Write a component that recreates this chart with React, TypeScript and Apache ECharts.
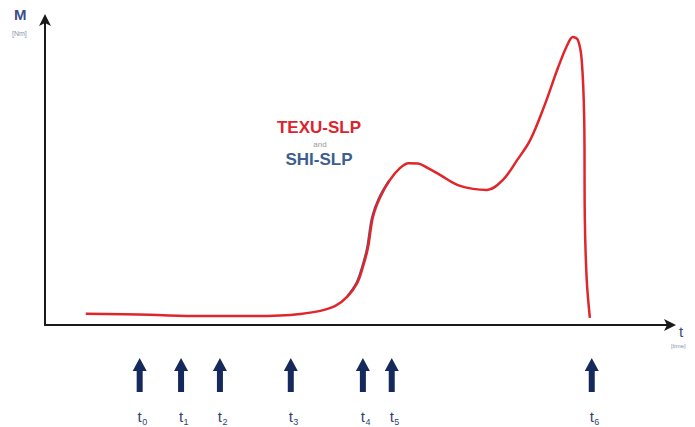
import React, { useEffect, useRef } from "react";
import * as echarts from "echarts";

// Torque curve M(t) for TEXU-SLP, axis units 0..100
const curveT = [6.5, 16.7, 24.7, 32.7, 37.5, 40.7, 43.9, 46.3, 48.3, 49.8, 50.7, 51.5, 52.3, 53.4, 55.0, 56.6, 58.0, 59.5, 61.0, 63.0, 66.2, 70.5, 73.0, 75.3, 77.4, 79.7, 81.8, 83.3, 84.2, 85.0, 85.6, 86.0, 86.1, 86.4, 86.9];
const curveM = [3.7, 3.3, 2.9, 2.9, 3.1, 3.6, 4.6, 6.2, 9.4, 13.7, 18.9, 25.1, 35.2, 41.4, 47.2, 51.1, 52.7, 52.6, 51.2, 48.9, 45.3, 44.0, 47.2, 53.7, 60.3, 71.7, 83.7, 91.2, 93.8, 92.8, 86.3, 66.8, 34.2, 14.7, 2.3];

// SHI-SLP curve, visible only where it departs slightly on the rise
const shiT = [48.2, 49.65, 50.55, 51.35, 52.15, 53.25, 54.9];
const shiM = [9.4, 13.7, 18.9, 25.1, 35.2, 41.4, 47.2];

// Event times t0..t6
const eventT = [15.1, 21.7, 27.9, 39.2, 50.7, 55.3, 87.2];
const eventLabels = ["0", "1", "2", "3", "4", "5", "6"];

export default function App() {
  const ref = useRef<HTMLDivElement>(null);
  useEffect(() => {
    const chart = echarts.init(ref.current!, null, { renderer: "svg" });
    const font = "Liberation Sans, Arial, sans-serif";
    chart.setOption({
      animation: false,
      backgroundColor: "#ffffff",
      grid: { left: 45, top: 18, width: 627, height: 307, containLabel: false },
      xAxis: {
        type: "value",
        min: 0,
        max: 100,
        axisLine: { show: true, lineStyle: { color: "#1a1a1a", width: 2 }, symbol: ["none", "arrow"], symbolSize: [9, 12], symbolOffset: [0, 4] },
        axisTick: { show: false },
        axisLabel: { show: false },
        splitLine: { show: false },
      },
      yAxis: {
        type: "value",
        min: 0,
        max: 100,
        axisLine: { show: true, lineStyle: { color: "#1a1a1a", width: 2 }, symbol: ["none", "arrow"], symbolSize: [9, 12], symbolOffset: [0, 4] },
        axisTick: { show: false },
        axisLabel: { show: false },
        splitLine: { show: false },
      },
      series: [
        {
          type: "line",
          data: shiT.map((t, i) => [t, shiM[i]]),
          smooth: 0.35,
          showSymbol: false,
          lineStyle: { color: "#4a5f8c", width: 2 },
          z: 2,
        },
        {
          type: "line",
          data: curveT.map((t, i) => [t, curveM[i]]),
          smooth: 0.35,
          showSymbol: false,
          lineStyle: { color: "#e0262b", width: 2.5 },
          z: 3,
        },
        {
          type: "custom",
          clip: false,
          data: eventT.map((t, i) => [t, i]),
          renderItem: (params: any, api: any) => {
            const p = api.coord([api.value(0), 0]);
            const x = p[0];
            const y0 = p[1];
            const idx = api.value(1);
            return {
              type: "group",
              children: [
                {
                  type: "polygon",
                  shape: {
                    points: [
                      [x, y0 + 33],
                      [x + 7, y0 + 46],
                      [x + 3, y0 + 46],
                      [x + 3, y0 + 67],
                      [x - 3, y0 + 67],
                      [x - 3, y0 + 46],
                      [x - 7, y0 + 46],
                    ],
                  },
                  style: { fill: "#15295c" },
                },
                {
                  type: "text",
                  x: x,
                  y: y0 + 91,
                  style: { text: "t", fill: "#33436f", font: "15px " + font, align: "center", verticalAlign: "middle" },
                },
                {
                  type: "text",
                  x: x + 5,
                  y: y0 + 97,
                  style: { text: eventLabels[idx], fill: "#33436f", font: "9px " + font, align: "center", verticalAlign: "middle" },
                },
              ],
            };
          },
          z: 4,
        },
      ],
      graphic: [
        { type: "text", left: 14, top: 7, style: { text: "M", fill: "#3d4d88", font: "bold 15px " + font } },
        { type: "text", left: 12, top: 30, style: { text: "[Nm]", fill: "#8a93b0", font: "7px " + font } },
        { type: "text", left: 679, top: 324, style: { text: "t", fill: "#3b4a78", font: "15px " + font } },
        { type: "text", left: 671, top: 343, style: { text: "[time]", fill: "#8a93b0", font: "6px " + font } },
        { type: "text", x: 319, y: 127, style: { text: "TEXU-SLP", fill: "#dc242c", font: "bold 17px " + font, align: "center", verticalAlign: "middle" } },
        { type: "text", x: 320, y: 144, style: { text: "and", fill: "#9a9a9a", font: "8px " + font, align: "center", verticalAlign: "middle" } },
        { type: "text", x: 319, y: 159, style: { text: "SHI-SLP", fill: "#3d5e8e", font: "bold 17px " + font, align: "center", verticalAlign: "middle" } },
      ],
    });
    return () => chart.dispose();
  }, []);
  return <div ref={ref} style={{ position: "fixed", left: 0, top: 0, width: 695, height: 427 }} />;
}
